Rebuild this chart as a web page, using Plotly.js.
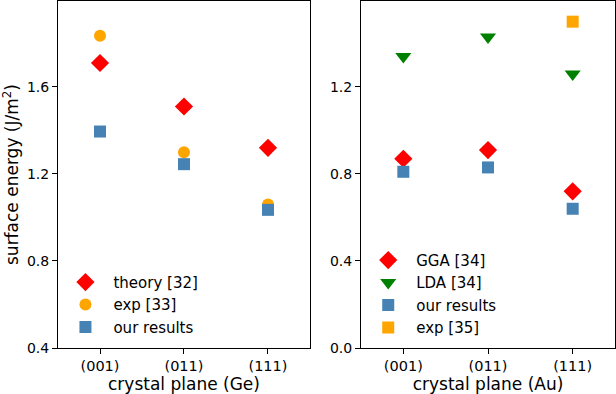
<!DOCTYPE html>
<html>
<head>
<meta charset="utf-8">
<script src="https://cdn.plot.ly/plotly-3.0.1.min.js"></script>
<style>html,body{margin:0;padding:0;background:#fff;}#chart{width:616px;height:394px;}</style>
</head>
<body>
<div id="chart"></div>
<script>
const planes = ["(001)", "(011)", "(111)"];
// Ge panel
const geTheory = [1.71, 1.51, 1.32];
const geExp = [1.835, 1.30, 1.06];
const geOurs = [1.395, 1.245, 1.035];
// Au panel
const auGGA = [0.87, 0.91, 0.72];
const auLDA = [1.34, 1.43, 1.26];
const auOurs = [0.81, 0.83, 0.64];
const auExpPlanes = ["(111)"];
const auExp = [1.50];

const RED = "#ff0000", ORANGE = "#ffa500", BLUE = "#4682b4", GREEN = "#008000";
const F = "DejaVu Sans, sans-serif";

const traces = [
  {x: planes, y: geTheory, name: "theory [32]", mode: "markers", type: "scatter",
   marker: {symbol: "diamond", size: 14, color: RED}, xaxis: "x", yaxis: "y", legend: "legend"},
  {x: planes, y: geExp, name: "exp [33]", mode: "markers", type: "scatter",
   marker: {symbol: "circle", size: 12, color: ORANGE}, xaxis: "x", yaxis: "y", legend: "legend"},
  {x: planes, y: geOurs, name: "our results", mode: "markers", type: "scatter",
   marker: {symbol: "square", size: 12, color: BLUE}, xaxis: "x", yaxis: "y", legend: "legend"},
  {x: planes, y: auGGA, name: "GGA [34]", mode: "markers", type: "scatter",
   marker: {symbol: "diamond", size: 14, color: RED}, xaxis: "x2", yaxis: "y2", legend: "legend2"},
  {x: planes, y: auLDA, name: "LDA [34]", mode: "markers", type: "scatter",
   marker: {symbol: "triangle-down", size: 14, color: GREEN}, xaxis: "x2", yaxis: "y2", legend: "legend2"},
  {x: planes, y: auOurs, name: "our results", mode: "markers", type: "scatter",
   marker: {symbol: "square", size: 12, color: BLUE}, xaxis: "x2", yaxis: "y2", legend: "legend2"},
  {x: auExpPlanes, y: auExp, name: "exp [35]", mode: "markers", type: "scatter",
   marker: {symbol: "square", size: 12, color: ORANGE}, xaxis: "x2", yaxis: "y2", legend: "legend2"}
];

const axCommon = {
  showline: true, linecolor: "#000", linewidth: 1, mirror: true,
  ticks: "outside", ticklen: 5, tickwidth: 1, tickcolor: "#000",
  showgrid: false, zeroline: false,
  tickfont: {family: F, size: 14, color: "#000"}
};
const xTickFont = {family: F, size: 14.5, color: "#000"};

const layout = {
  width: 616, height: 394,
  margin: {l: 58, r: 1, t: 1, b: 46},
  paper_bgcolor: "#fff", plot_bgcolor: "#fff",
  font: {family: F, color: "#000"},
  showlegend: true,
  xaxis: Object.assign({}, axCommon, {domain: [0, 0.4524], type: "category", range: [-0.5, 2.5], tickfont: xTickFont,
    title: {text: "crystal plane (Ge)", font: {family: F, size: 17, color: "#000"}, standoff: 6}}),
  yaxis: Object.assign({}, axCommon, {range: [0.4, 1.995], tickvals: [0.4, 0.8, 1.2, 1.6], tickformat: ".1f",
    title: {text: "surface energy (J/m<sup>2</sup>)", font: {family: F, size: 17, color: "#000"}, standoff: 8}}),
  xaxis2: Object.assign({}, axCommon, {domain: [0.544, 1], type: "category", range: [-0.5, 2.5], anchor: "y2", tickfont: xTickFont,
    title: {text: "crystal plane (Au)", font: {family: F, size: 17, color: "#000"}, standoff: 6}}),
  yaxis2: Object.assign({}, axCommon, {range: [0, 1.595], tickvals: [0, 0.4, 0.8, 1.2], tickformat: ".1f", anchor: "x2"}),
  legend: {x: -0.001, y: 0.012, xanchor: "left", yanchor: "bottom", bgcolor: "rgba(0,0,0,0)", itemwidth: 46,
    font: {family: F, size: 15, color: "#000"}, tracegroupgap: 0},
  legend2: {x: 0.5426, y: 0.012, xanchor: "left", yanchor: "bottom", bgcolor: "rgba(0,0,0,0)", itemwidth: 46,
    font: {family: F, size: 15, color: "#000"}, tracegroupgap: 0}
};

Plotly.newPlot("chart", traces, layout, {displayModeBar: false, staticPlot: true});
</script>
</body>
</html>
